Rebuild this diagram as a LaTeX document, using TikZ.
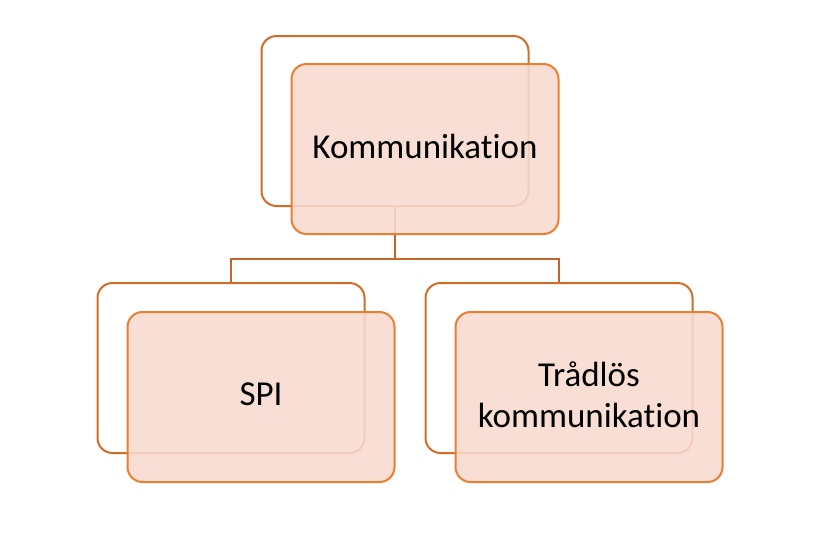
\documentclass[tikz,border=0pt]{standalone}
\usepackage{fontspec}
\setmainfont[Ligatures=NoCommon]{Carlito}
\usetikzlibrary{positioning}
\definecolor{boxline}{HTML}{ED7D31}
\definecolor{backline}{HTML}{D36C28}
\definecolor{linkline}{HTML}{C4632A}
\definecolor{boxfill}{HTML}{F8DAD0}
\begin{document}
\begin{tikzpicture}[x=1pt,y=-1pt,every node/.style={align=center, font=\fontsize{35}{41}\selectfont},
backbox/.style={draw=backline, line width=2pt, rounded corners=15pt, minimum width=267pt, minimum height=170pt, inner sep=0pt},
frontbox/.style={draw=boxline, line width=2pt, fill=boxfill, fill opacity=0.88, text opacity=1, rounded corners=15pt, minimum width=267pt, minimum height=170pt, inner sep=0pt, text depth=5pt},
link/.style={draw=linkline, line width=2pt}]
\useasboundingbox (0,0) rectangle (830,539);
% back boxes
\node[backbox] (kommback) at (395,121) {};
\node[backbox] (spiback) at (231,368) {};
\node[backbox] (tradback) at (559,368) {};
% connectors
\coordinate (bus) at (395,258.5);
\draw[link] (kommback.south) -- (bus) -| (spiback.north);
\draw[link] (bus) -| (tradback.north);
% front boxes
\node[frontbox] (komm) at ([xshift=30pt,yshift=-28pt]kommback.center) {Kommunikation};
\node[frontbox] (spi) at ([xshift=30pt,yshift=-29pt]spiback.center) {SPI};
\node[frontbox] (trad) at ([xshift=30pt,yshift=-29pt]tradback.center) {Trådlös\\kommunikation};
\end{tikzpicture}
\end{document}
